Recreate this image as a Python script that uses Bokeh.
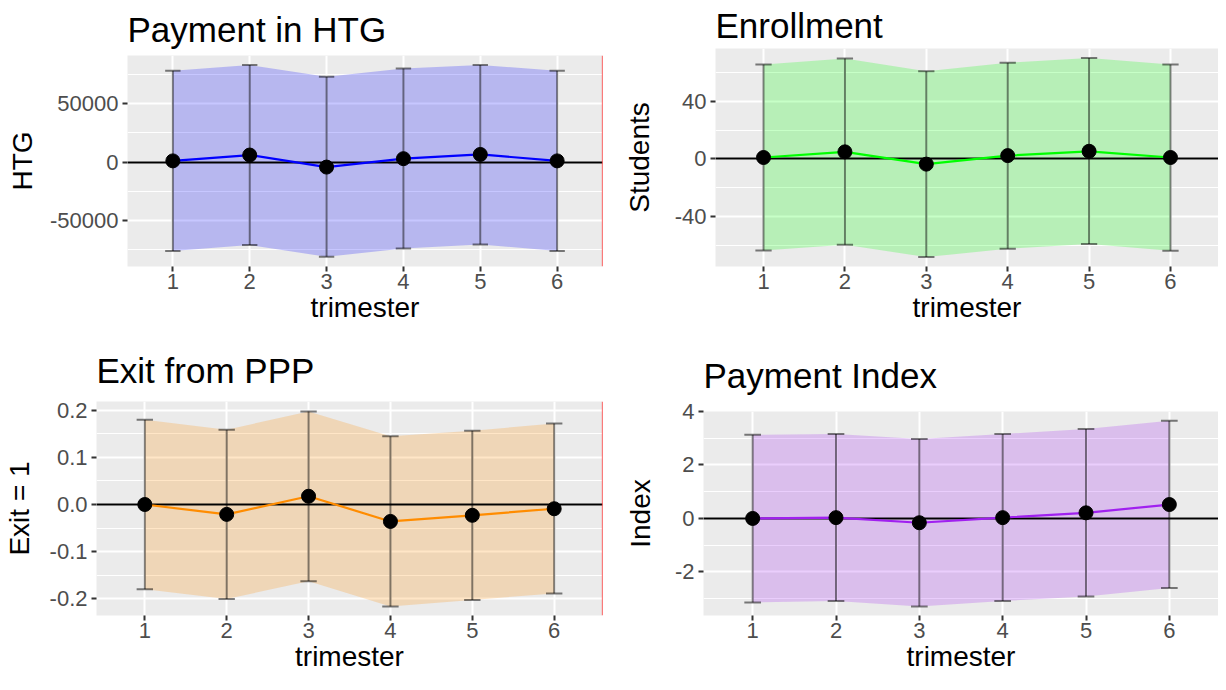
from bokeh.plotting import figure
from bokeh.layouts import column, row
from bokeh.models import FixedTicker, PrintfTickFormatter
from bokeh.embed import file_html
from bokeh.resources import INLINE

# ---------------- data ----------------
trimester = [1, 2, 3, 4, 5, 6]

htg_est = [1000, 6000, -4300, 2900, 6500, 1000]
htg_lo = [-76000, -71000, -81000, -74000, -70500, -76000]
htg_hi = [78000, 83000, 73000, 80000, 83000, 78000]
htg_ticks = [-50000, 0, 50000]
htg_minor = [-75000, -25000, 25000, 75000]

enr_est = [1.0, 4.9, -3.6, 2.3, 5.3, 1.0]
enr_lo = [-63.3, -59.3, -67.9, -62.1, -58.8, -63.5]
enr_hi = [65.4, 69.4, 60.7, 66.6, 69.8, 65.4]
enr_ticks = [-40, 0, 40]
enr_minor = [-60, -20, 20, 60]

exit_est = [0.0, -0.021, 0.0175, -0.036, -0.023, -0.009]
exit_lo = [-0.180, -0.201, -0.163, -0.217, -0.203, -0.189]
exit_hi = [0.180, 0.159, 0.198, 0.145, 0.157, 0.172]
exit_ticks = [-0.2, -0.1, 0.0, 0.1, 0.2]
exit_minor = [-0.15, -0.05, 0.05, 0.15]

idx_est = [0.0, 0.03, -0.16, 0.03, 0.21, 0.52]
idx_lo = [-3.14, -3.09, -3.29, -3.09, -2.92, -2.60]
idx_hi = [3.13, 3.16, 2.97, 3.16, 3.35, 3.65]
idx_ticks = [-2, 0, 2, 4]
idx_minor = [-3, -1, 1, 3]

FONT = "Liberation Sans"
X0, X1 = 0.41, 6.59


def panel(title, ylab, est, lo, hi, color, yrange, ticks, minor, fmt,
          width, height, bl, bt, bb, br, title_standoff, ylab_standoff, red):
    p = figure(width=width, height=height, x_range=(X0, X1), y_range=yrange,
               output_backend="svg", toolbar_location=None,
               min_border_left=bl, min_border_top=bt, min_border_bottom=bb,
               min_border_right=br, background_fill_color="#ebebeb",
               border_fill_color="white", outline_line_color=None,
               frame_align=False, title=title)
    p.title.text_font = FONT
    p.title.text_font_size = "35px"
    p.title.text_font_style = "normal"
    p.title.text_color = "black"
    p.title.align = "left"
    p.title.standoff = title_standoff

    # grids
    p.xgrid.ticker = FixedTicker(ticks=trimester, minor_ticks=[])
    p.xgrid.grid_line_color = "white"
    p.xgrid.grid_line_width = 2
    p.ygrid.ticker = FixedTicker(ticks=ticks, minor_ticks=minor)
    p.ygrid.grid_line_color = "white"
    p.ygrid.grid_line_width = 2
    p.ygrid.minor_grid_line_color = "white"
    p.ygrid.minor_grid_line_width = 1

    # axes
    p.xaxis.ticker = FixedTicker(ticks=trimester, minor_ticks=[])
    p.yaxis.ticker = FixedTicker(ticks=ticks, minor_ticks=minor)
    p.yaxis.formatter = PrintfTickFormatter(format=fmt)
    p.xaxis.formatter = PrintfTickFormatter(format="%d")
    for ax in (p.xaxis, p.yaxis):
        ax.axis_line_color = None
        ax.major_tick_line_color = "#333333"
        ax.major_tick_line_width = 2
        ax.major_tick_out = 5
        ax.major_tick_in = 0
        ax.minor_tick_line_color = None
        ax.major_label_text_font = FONT
        ax.major_label_text_font_size = "22px"
        ax.major_label_text_color = "#4d4d4d"
        ax.axis_label_text_font = FONT
        ax.axis_label_text_font_size = "28px"
        ax.axis_label_text_font_style = "normal"
        ax.axis_label_text_color = "black"
    p.xaxis.axis_label = "trimester"
    p.xaxis.major_label_standoff = 2
    p.xaxis.axis_label_standoff = 0
    p.yaxis.axis_label = ylab
    p.yaxis.major_label_standoff = 4
    p.yaxis.axis_label_standoff = ylab_standoff

    # ribbon
    p.varea(x=trimester, y1=lo, y2=hi, fill_color=color, fill_alpha=0.22)
    # zero line
    p.hspan(y=[0], line_color="black", line_width=2)
    # error bars
    p.segment(x0=trimester, y0=lo, x1=trimester, y1=hi,
              line_color="black", line_alpha=0.5, line_width=2)
    p.segment(x0=[t - 0.1 for t in trimester], y0=lo,
              x1=[t + 0.1 for t in trimester], y1=lo,
              line_color="black", line_alpha=0.5, line_width=2)
    p.segment(x0=[t - 0.1 for t in trimester], y0=hi,
              x1=[t + 0.1 for t in trimester], y1=hi,
              line_color="black", line_alpha=0.5, line_width=2)
    # estimate line + points
    p.line(trimester, est, line_color=color, line_width=2.2)
    p.scatter(trimester, est, size=14, fill_color="black", line_color="black")
    if red:
        p.vspan(x=[X1 - 0.004], line_color="red", line_width=1.2)
    return p


p1 = panel("Payment in HTG", "HTG", htg_est, htg_lo, htg_hi, "blue",
           (-89300, 91100), htg_ticks, htg_minor, "%d",
           608, 337, 127, 48, 71, 6, 14, 9, True)
p2 = panel("Enrollment", "Students", enr_est, enr_lo, enr_hi, "#00ff00",
           (-74.4, 76.4), enr_ticks, enr_minor, "%d",
           610, 337, 107, 41, 71, 0, 7, 17, False)
p3 = panel("Exit from PPP", "Exit = 1", exit_est, exit_lo, exit_hi, "#ff8c00",
           (-0.236, 0.219), exit_ticks, exit_minor, "%.1f",
           608, 337, 91, 57, 58, 6, 23, 12, True)
p4 = panel("Payment Index", "Index", idx_est, idx_lo, idx_hi, "#a020f0",
           (-3.63, 4.0), idx_ticks, idx_minor, "%d",
           610, 337, 95, 67, 58, 0, 33, 16, False)

layout = column(row(p1, p2), row(p3, p4))

with open("out.html", "w") as f:
    f.write(file_html(layout, INLINE))
